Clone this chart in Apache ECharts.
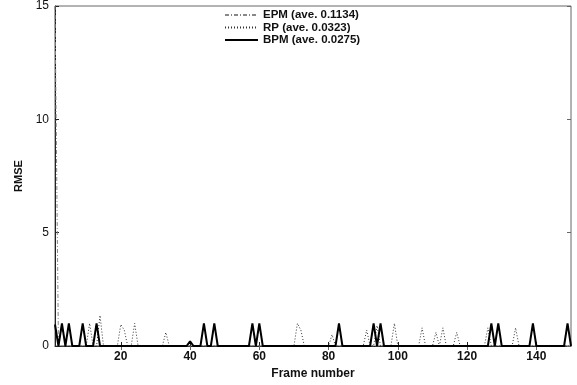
<!DOCTYPE html>
<html>
<head>
<meta charset="utf-8">
<script src="https://cdn.jsdelivr.net/npm/echarts@6/dist/echarts.min.js"></script>
<style>
  html, body { margin: 0; padding: 0; background: #fff; }
  #main { width: 577px; height: 385px; }
</style>
</head>
<body>
<div id="main"></div>
<script>
// frames 1..150, every frame not listed below is 0
const frameCount = 150
const xTicks = [20, 40, 60, 80, 100, 120, 140]

// [frame, RMSE] peaks
const epmPeaks = [[1, 15]]
const rpPeaks = [
  [3, 0.9], [11, 1.0], [14, 1.35], [20, 0.95], [21, 0.7], [24, 1.0],
  [33, 0.6], [71, 1.0], [72, 0.7], [81, 0.5], [91, 0.7], [94, 0.9],
  [99, 1.0], [107, 0.8], [111, 0.6], [113, 0.8], [117, 0.6], [126, 0.8],
  [134, 0.8]
]
const bpmPeaks = [
  [1, 0.95], [3, 1.0], [5, 1.0], [9, 1.0], [13, 1.0], [40, 0.2],
  [44, 1.0], [47, 1.0], [58, 1.0], [60, 1.0], [83, 1.0], [93, 1.0],
  [95, 1.0], [127, 1.0], [129, 1.0], [139, 1.0], [149, 1.0]
]

const names = ['EPM (ave. 0.1134)', 'RP (ave. 0.0323)', 'BPM (ave. 0.0275)']

// expand peak list into a value per frame
const toSeries = (peaks) => {
  const vals = {}
  peaks.forEach(([f, v]) => { vals[f] = v })
  const out = []
  for (let f = 1; f <= frameCount; f++) out.push([f, vals[f] || 0])
  return out
}

const font = 'Liberation Sans, Arial, sans-serif'
const axisCol = '#222'

const myChart = echarts.init(document.getElementById('main'))

const option = {
  animation: false,
  backgroundColor: '#fff',
  grid: {
    left: 55, right: 6, top: 5, bottom: 36,
    show: true, borderColor: '#666', borderWidth: 1
  },
  legend: {
    orient: 'vertical',
    left: 219,
    top: 4,
    itemWidth: 33,
    itemHeight: 8,
    itemGap: 0.5,
    itemStyle: { opacity: 0 },
    data: names,
    textStyle: { fontFamily: font, fontSize: 11.5, fontWeight: 'bold', color: '#111', lineHeight: 11 }
  },
  xAxis: [
    {
      type: 'value', min: 1, max: frameCount,
      name: 'Frame number', nameLocation: 'middle', nameGap: 22,
      nameTextStyle: { fontFamily: font, fontSize: 12, fontWeight: 'bold', color: '#111' },
      axisLine: { lineStyle: { color: axisCol } },
      axisTick: { inside: true, length: 4, customValues: xTicks, lineStyle: { color: axisCol } },
      axisLabel: { customValues: xTicks, fontFamily: font, fontSize: 12, fontWeight: 'bold', color: '#111', margin: 5 },
      splitLine: { show: false }
    },
    {
      type: 'value', min: 1, max: frameCount, position: 'top',
      axisLine: { show: false },
      axisTick: { inside: true, length: 4, customValues: xTicks, lineStyle: { color: '#666' } },
      axisLabel: { show: false },
      splitLine: { show: false }
    }
  ],
  yAxis: [
    {
      type: 'value', min: 0, max: 15, interval: 5,
      name: 'RMSE', nameLocation: 'middle', nameGap: 30,
      nameTextStyle: { fontFamily: font, fontSize: 11, fontWeight: 'bold', color: '#111' },
      axisLine: { show: true, lineStyle: { color: axisCol } },
      axisTick: { show: true, inside: true, length: 4, lineStyle: { color: axisCol } },
      axisLabel: { fontFamily: font, fontSize: 12, color: '#111', margin: 6 },
      splitLine: { show: false }
    },
    {
      type: 'value', min: 0, max: 15, interval: 5, position: 'right',
      axisLine: { show: false },
      axisTick: { show: true, inside: true, length: 4, lineStyle: { color: '#666' } },
      axisLabel: { show: false },
      splitLine: { show: false }
    }
  ],
  series: [
    {
      name: names[0], type: 'line', symbol: 'none', data: toSeries(epmPeaks),
      color: '#888',
      lineStyle: { color: '#888', width: 1, type: [4, 2, 1, 2] }
    },
    {
      name: names[1], type: 'line', symbol: 'none', data: toSeries(rpPeaks),
      color: '#333',
      lineStyle: { color: '#333', width: 1, type: [1, 2] }
    },
    {
      name: names[2], type: 'line', symbol: 'none', data: toSeries(bpmPeaks),
      color: '#000',
      lineStyle: { color: '#000', width: 2 }
    }
  ]
}

myChart.setOption(option)
</script>
</body>
</html>
